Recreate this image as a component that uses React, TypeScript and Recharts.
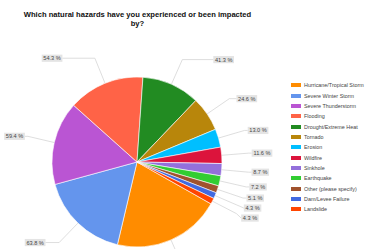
import React from 'react';
import { PieChart, Pie, Cell } from 'recharts';

const hazards = [
  'Hurricane/Tropical Storm',
  'Severe Winter Storm',
  'Severe Thunderstorm',
  'Flooding',
  'Drought/Extreme Heat',
  'Tornado',
  'Erosion',
  'Wildfire',
  'Sinkhole',
  'Earthquake',
  'Other (please specify)',
  'Dam/Levee Failure',
  'Landslide',
];

const percents = [76.8, 63.8, 59.4, 54.3, 41.3, 24.6, 13.0, 11.6, 8.7, 7.2, 5.1, 4.3, 4.3];

const colors = [
  '#FF8C00', '#6495ED', '#BA55D3', '#FF6347', '#228B22', '#B8860B', '#00BFFF',
  '#DC143C', '#9370DB', '#32CD32', '#A0522D', '#4169E1', '#FF4500',
];

const data = hazards.map((name, i) => ({ name, value: percents[i] }));

const W = 368;
const H = 249;
const CX = 137;
const CY = 162;
const R = 85;
const START = -29.5;
const RAD = Math.PI / 180;
const FONT = '"Liberation Sans", Arial, sans-serif';

// work out where each outside label goes (google-style leader lines)
function layoutLabels() {
  const total = percents.reduce((a, b) => a + b, 0);
  let cum = 0;
  const items = percents.map((v, i) => {
    const a = (START - ((cum + v / 2) / total) * 360) * RAD;
    cum += v;
    const ex = CX + R * Math.cos(a);
    const ey = CY - R * Math.sin(a);
    const bx = CX + (R + 27) * Math.cos(a);
    const by = CY - (R + 27) * Math.sin(a);
    const right = Math.cos(a) >= 0;
    const len = 3 + 40 * Math.pow(Math.sin(a), 4);
    return { i, ex, ey, bx, by, right, lx: bx + (right ? len : -len), ly: by };
  });
  // spread labels so they do not overlap
  [true, false].forEach((side) => {
    const s = items.filter((d) => d.right === side).sort((a, b) => a.ly - b.ly);
    for (let k = 1; k < s.length; k++) {
      if (s[k].ly - s[k - 1].ly < 10) s[k].ly = s[k - 1].ly + 10;
    }
  });
  return items;
}

const labelPos = layoutLabels();

const renderLabel = (props: any) => {
  const p = labelPos[props.index];
  const text = `${percents[props.index].toFixed(1)} %`;
  const w = text.length * 3.2 + 1.5;
  const boxX = p.right ? p.lx : p.lx - w;
  return (
    <g key={`lbl-${props.index}`}>
      <polyline
        points={`${p.ex},${p.ey} ${p.bx},${p.by} ${p.lx},${p.ly}`}
        fill="none"
        stroke="#d0d0d0"
        strokeWidth={0.7}
      />
      <rect x={boxX} y={p.ly - 3.6} width={w} height={7.2} fill="#e4e4e4" />
      <text
        x={boxX + w / 2}
        y={p.ly + 2}
        textAnchor="middle"
        fontSize={5.6}
        fontFamily={FONT}
        fill="#444"
      >
        {text}
      </text>
    </g>
  );
};

export default function App() {
  return (
    <div style={{ position: 'absolute', left: 0, top: 0, width: W, height: H, background: '#fff', overflow: 'hidden' }}>
      <PieChart width={W} height={H} margin={{ top: 0, right: 0, bottom: 0, left: 0 }}>
        <Pie
          data={data}
          dataKey="value"
          nameKey="name"
          cx={CX}
          cy={CY}
          outerRadius={R}
          startAngle={START}
          endAngle={START - 360}
          stroke="#fff"
          strokeWidth={0.6}
          label={renderLabel}
          labelLine={false}
          isAnimationActive={false}
        >
          {data.map((d, i) => (
            <Cell key={d.name} fill={colors[i]} />
          ))}
        </Pie>
      </PieChart>

      <div
        style={{
          position: 'absolute',
          left: 0,
          top: 10,
          width: 275,
          textAlign: 'center',
          fontFamily: FONT,
          fontWeight: 'bold',
          fontSize: 7.6,
          lineHeight: '9px',
          color: '#111',
        }}
      >
        Which natural hazards have you experienced or been impacted
        <br />
        by?
      </div>

      <div style={{ position: 'absolute', left: 291, top: 80, fontFamily: FONT }}>
        {hazards.map((name, i) => (
          <div
            key={name}
            style={{ display: 'flex', alignItems: 'center', height: 10.36, whiteSpace: 'nowrap' }}
          >
            <div style={{ width: 10, height: 4, background: colors[i], marginRight: 3, flexShrink: 0 }} />
            <span style={{ fontSize: 5.4, color: '#444' }}>{name}</span>
          </div>
        ))}
      </div>
    </div>
  );
}
